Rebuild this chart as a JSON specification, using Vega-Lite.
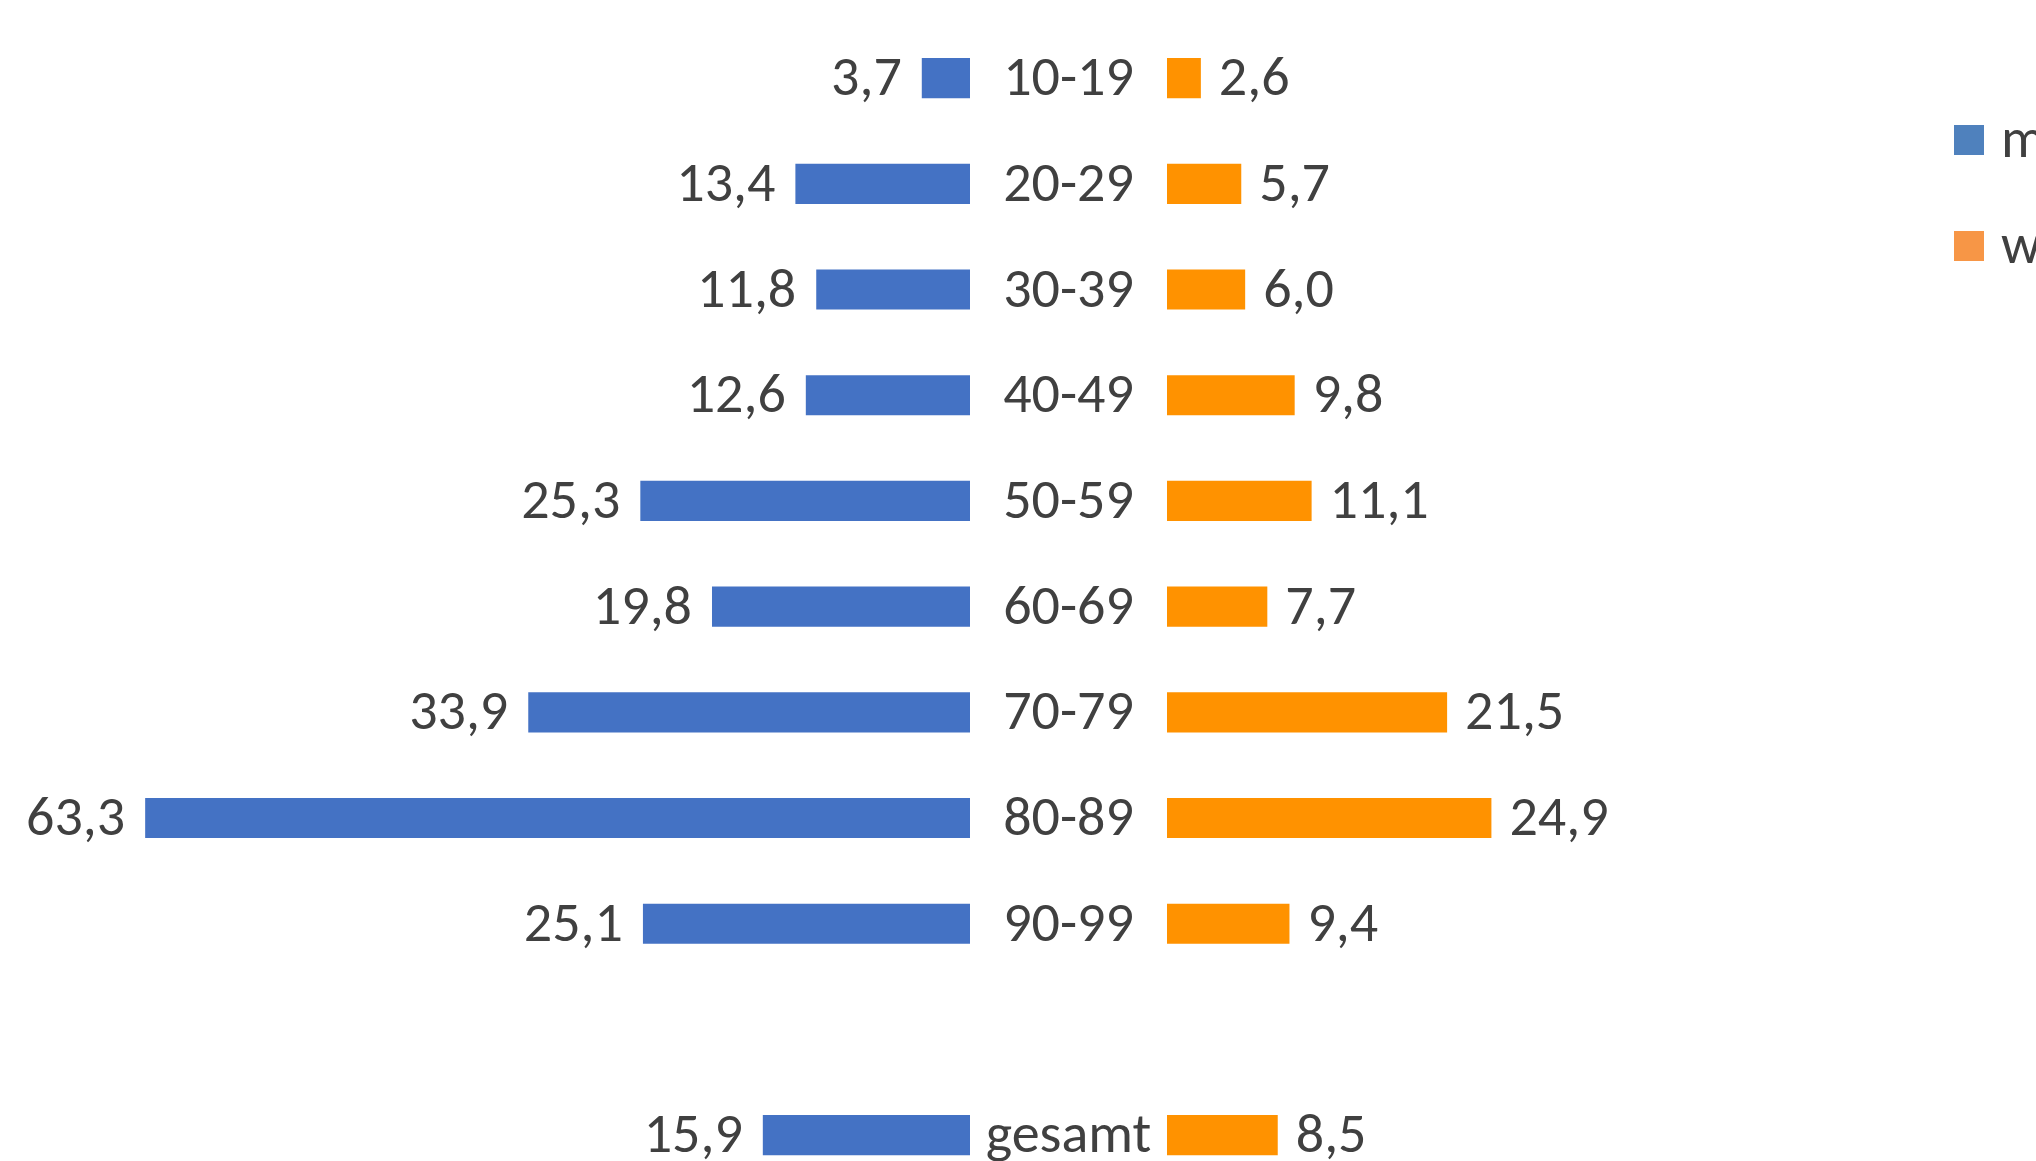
{
  "$schema": "https://vega.github.io/schema/vega-lite/v6.json",
  "padding": 0,
  "background": "white",
  "spacing": 0,
  "config": {
    "view": {"stroke": null},
    "font": "Carlito, DejaVu Sans Condensed, Liberation Sans",
    "locale": {"number": {"decimal": ",", "thousands": ".", "grouping": [3], "currency": ["", " €"]}}
  },
  "datasets": {
    "rates": [
      {"age": "10-19", "m": 3.7, "w": 2.6},
      {"age": "20-29", "m": 13.4, "w": 5.7},
      {"age": "30-39", "m": 11.8, "w": 6.0},
      {"age": "40-49", "m": 12.6, "w": 9.8},
      {"age": "50-59", "m": 25.3, "w": 11.1},
      {"age": "60-69", "m": 19.8, "w": 7.7},
      {"age": "70-79", "m": 33.9, "w": 21.5},
      {"age": "80-89", "m": 63.3, "w": 24.9},
      {"age": "90-99", "m": 25.1, "w": 9.4},
      {"age": "gesamt", "m": 15.9, "w": 8.5}
    ],
    "sexes": [{"sex": "m"}, {"sex": "w"}]
  },
  "hconcat": [
    {
      "width": 970,
      "height": 1161,
      "data": {"name": "rates"},
      "encoding": {
        "y": {"field": "age", "type": "nominal", "axis": null,
              "scale": {"type": "band", "domain": ["10-19","20-29","30-39","40-49","50-59","60-69","70-79","80-89","90-99","","gesamt"], "paddingInner": 0.62, "paddingOuter": 0.302, "align": 0.909}},
        "x": {"field": "m", "type": "quantitative", "axis": null,
              "scale": {"domain": [0, 74.44], "reverse": true, "nice": false, "zero": true}}
      },
      "layer": [
        {"mark": {"type": "bar", "color": "#4472C4"}},
        {"mark": {"type": "text", "align": "right", "baseline": "middle", "dx": -20, "fontSize": 56, "color": "#404040"},
         "encoding": {"text": {"field": "m", "type": "quantitative", "format": ".1f"}}}
      ]
    },
    {
      "width": 197,
      "height": 1161,
      "data": {"name": "rates"},
      "mark": {"type": "text", "align": "center", "baseline": "middle", "fontSize": 56, "color": "#404040"},
      "encoding": {
        "y": {"field": "age", "type": "nominal", "axis": null,
              "scale": {"type": "band", "domain": ["10-19","20-29","30-39","40-49","50-59","60-69","70-79","80-89","90-99","","gesamt"], "paddingInner": 0.62, "paddingOuter": 0.302, "align": 0.909}},
        "text": {"field": "age", "type": "nominal"}
      }
    },
    {
      "width": 869,
      "height": 1161,
      "layer": [
        {
          "data": {"name": "rates"},
          "encoding": {
            "y": {"field": "age", "type": "nominal", "axis": null,
                  "scale": {"type": "band", "domain": ["10-19","20-29","30-39","40-49","50-59","60-69","70-79","80-89","90-99","","gesamt"], "paddingInner": 0.62, "paddingOuter": 0.302, "align": 0.909}},
            "x": {"field": "w", "type": "quantitative", "axis": null,
                  "scale": {"domain": [0, 66.7], "nice": false, "zero": true}}
          },
          "layer": [
            {"mark": {"type": "bar", "color": "#FF9200"}},
            {"mark": {"type": "text", "align": "left", "baseline": "middle", "dx": 18, "fontSize": 56, "color": "#404040"},
             "encoding": {"text": {"field": "w", "type": "quantitative", "format": ".1f"}}}
          ]
        },
        {
          "data": {"name": "sexes"},
          "mark": {"type": "square", "opacity": 0, "filled": true},
          "encoding": {
            "color": {"field": "sex", "type": "nominal",
                      "scale": {"domain": ["m", "w"], "range": ["#4F81BD", "#F79646"]},
                      "legend": {"orient": "none", "legendX": 1941, "legendY": 112, "title": null,
                                 "symbolType": "square", "symbolSize": 900, "symbolOpacity": 1,
                                 "labelFontSize": 56, "labelColor": "#404040", "labelOffset": 4,
                                 "rowPadding": 50, "padding": 0}}
          }
        }
      ]
    }
  ]
}
